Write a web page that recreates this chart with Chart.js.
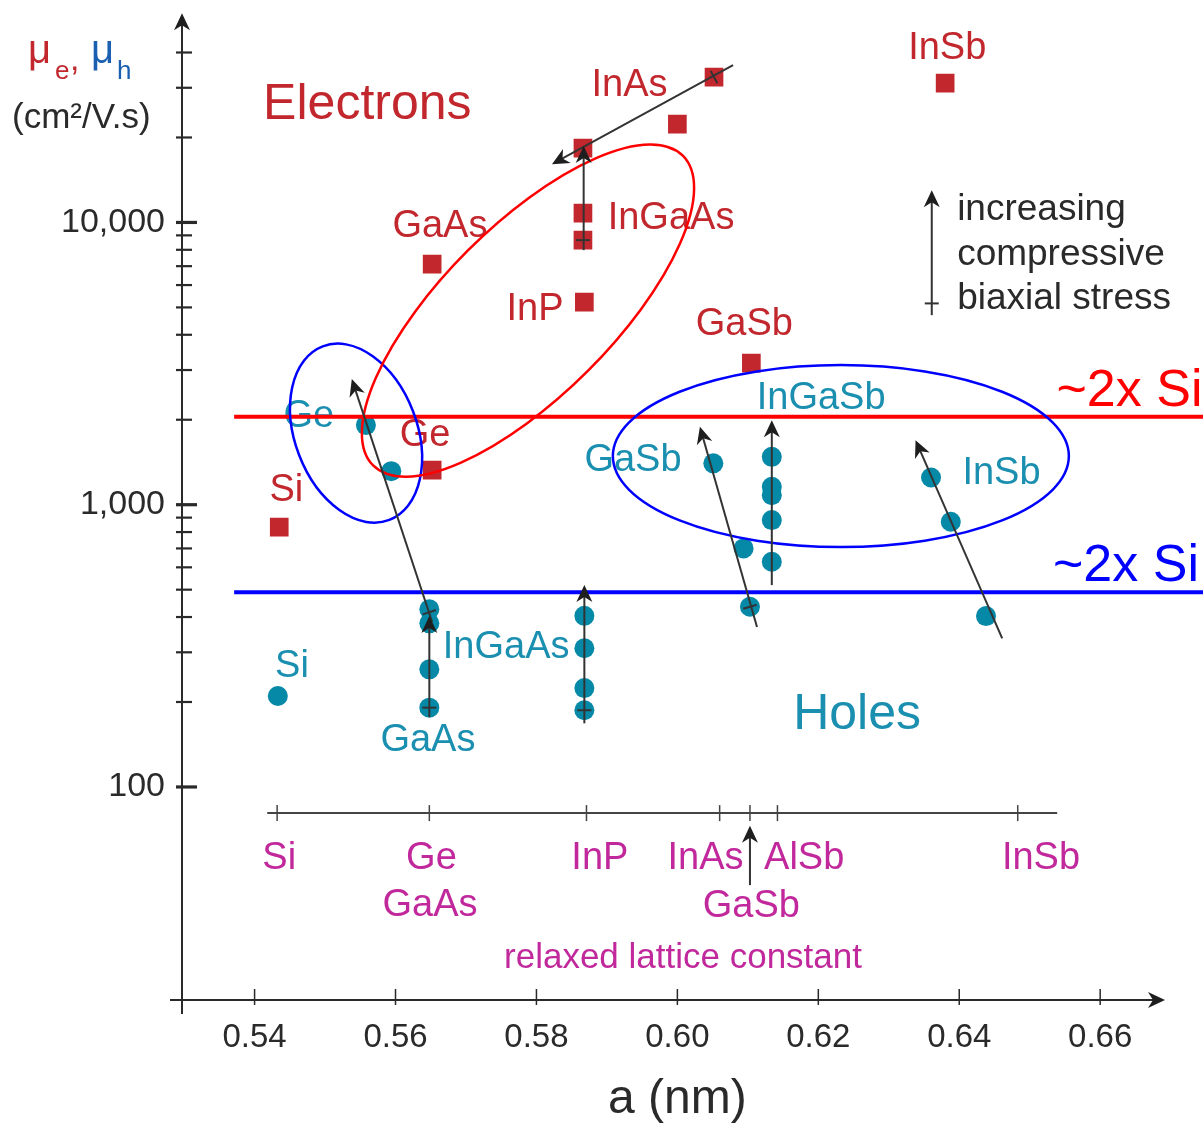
<!DOCTYPE html>
<html><head><meta charset="utf-8">
<script src="https://cdn.jsdelivr.net/npm/chart.js@4.4.1/dist/chart.umd.min.js"></script>
<style>html,body{margin:0;padding:0;background:#fff;overflow:hidden}canvas{display:block}</style>
</head><body>
<canvas id="c" width="1203" height="1123" style="width:1203px;height:1123px"></canvas>
<script>
// ---------- DATA ----------
// Electron mobility (red squares): lattice constant a (nm), mobility (cm2/V.s)
const electronA  = [0.5435, 0.5652, 0.5652, 0.5868, 0.5866, 0.5866, 0.5866, 0.6000, 0.6052, 0.6105, 0.6380];
const electronMu = [833, 1326, 7120, 5220, 8660, 10790, 18340, 22300, 32700, 3175, 31140];
// Hole mobility (teal circles)
const holeA  = [0.5433, 0.5558, 0.5594, 0.5648, 0.5648, 0.5648, 0.5648, 0.5868, 0.5868, 0.5868, 0.5868,
                0.6051, 0.6094, 0.6103, 0.6134, 0.6134, 0.6134, 0.6134, 0.6134, 0.6360, 0.6388, 0.6438];
const holeMu = [210, 1914, 1315, 426, 380, 261, 191, 404, 310, 224, 187,
                1401, 700, 435, 1478, 1157, 1081, 882, 628, 1249, 870, 403];
// Reference lines "~2x Si"
const refLineA = [0.5371, 0.6746];
const refElectronMu = 2050;
const refHoleMu = 490;
// Axis ticks
const xTickValues = [0.54, 0.56, 0.58, 0.60, 0.62, 0.64, 0.66];
const xTickLabels = ['0.54', '0.56', '0.58', '0.60', '0.62', '0.64', '0.66'];
const yTickValues = [100, 1000, 10000];
const yTickLabels = ['100', '1,000', '10,000'];
const yMinorTicks = [200, 300, 400, 500, 600, 700, 800, 900,
                     2000, 3000, 4000, 5000, 6000, 7000, 8000, 9000,
                     20000, 30000, 40000];
// Relaxed lattice constant scale
const latticeA = [0.5432, 0.5648, 0.5871, 0.6060, 0.6103, 0.6142, 0.6483];
const latticeMu = 80.8;
const latticeRange = [0.5418, 0.6539];
// Strain arrows: [a0, mu0, a1 (tip), mu1 (tip)]
const arrows = [
  [0.6079, 36070, 0.5822, 16090],
  [0.5867, 7978, 0.5867, 18640],
  [0.5652, 384, 0.5538, 2786],
  [0.5648, 177, 0.5648, 403],
  [0.5868, 168, 0.5868, 519],
  [0.6113, 369, 0.6032, 1888],
  [0.6134, 519, 0.6134, 1993],
  [0.6461, 336, 0.6338, 1693],
  [0.6103, 44.9, 0.6103, 72.9],
  [0.6361, 4694, 0.6361, 13016]
];
// Start (unstrained) markers on arrows: [arrow index, a, mu]
const arrowStarts = [[0, 0.6052, 32700], [1, 0.5866, 8657], [2, 0.5648, 416], [3, 0.5648, 191], [4, 0.5868, 187], [5, 0.6103, 435], [9, 0.6361, 5166]];

// ---------- ANNOTATIONS (anchors in data units) ----------
const RED = '#c1272d', TEAL = '#1a8fb0', MAG = '#c0289b', DARK = '#2a2a2a';
const notes = [
  ['Electrons', 0.5560, 26030, RED, 50, 'center'],
  ['InAs', 0.5932, 30650, RED, 38, 'center'],
  ['InSb', 0.6383, 41440, RED, 38, 'center'],
  ['GaAs', 0.5663, 9703, RED, 38, 'center'],
  ['InGaAs', 0.5991, 10356, RED, 38, 'center'],
  ['InP', 0.5798, 4932, RED, 38, 'center'],
  ['GaSb', 0.6095, 4362, RED, 38, 'center'],
  ['Ge', 0.5642, 1764, RED, 38, 'center'],
  ['Si', 0.5445, 1126, RED, 38, 'center'],
  ['Ge', 0.5477, 2060, TEAL, 38, 'center'],
  ['GaSb', 0.5937, 1439, TEAL, 38, 'center'],
  ['InGaSb', 0.6204, 2386, TEAL, 38, 'center'],
  ['InSb', 0.6460, 1294, TEAL, 38, 'center'],
  ['InGaAs', 0.5757, 313, TEAL, 38, 'center'],
  ['Si', 0.5453, 268, TEAL, 38, 'center'],
  ['GaAs', 0.5646, 146.6, TEAL, 38, 'center'],
  ['Holes', 0.6255, 179.7, TEAL, 50, 'center'],
  ['Si', 0.5435, 56, MAG, 38, 'center'],
  ['Ge', 0.5651, 56, MAG, 38, 'center'],
  ['GaAs', 0.5649, 37.9, MAG, 38, 'center'],
  ['InP', 0.5890, 56, MAG, 38, 'center'],
  ['InAs', 0.6040, 56, MAG, 38, 'center'],
  ['AlSb', 0.6180, 56, MAG, 38, 'center'],
  ['GaSb', 0.6105, 37.6, MAG, 38, 'center'],
  ['InSb', 0.6516, 56, MAG, 38, 'center'],
  ['relaxed lattice constant', 0.6008, 24.8, MAG, 35, 'center'],
  ['increasing', 0.6397, 11055, DARK, 37, 'left'],
  ['compressive', 0.6397, 7661, DARK, 37, 'left'],
  ['biaxial stress', 0.6397, 5350, DARK, 37, 'left'],
  ['~2x Si', 0.6538, 2505, '#ff0000', 52, 'left'],
  ['~2x Si', 0.6533, 601, '#0000ff', 52, 'left']
];
// Ellipses: [a centre, mu centre, rx px, ry px, rotation deg, colour]
const ellipses = [
  [0.5544, 1793, 61, 93, -21, '#0000ff'],
  [0.5788, 4874, 219, 85, -45, '#ff0000'],
  [0.6232, 1487, 228, 91, 0, '#0000ff']
];

const FONT = '"Liberation Sans", Arial, Helvetica, sans-serif';

function arrowHead(ctx, x0, y0, x1, y1) {
  const ang = Math.atan2(y1 - y0, x1 - x0);
  ctx.save();
  ctx.translate(x1, y1); ctx.rotate(ang);
  ctx.beginPath();
  ctx.moveTo(0, 0); ctx.lineTo(-17, -8); ctx.lineTo(-12, 0); ctx.lineTo(-17, 8);
  ctx.closePath(); ctx.fill();
  ctx.restore();
}

const decor = {
  id: 'decor',
  beforeDatasetsDraw(chart) {
    const ctx = chart.ctx, xs = chart.scales.x, ys = chart.scales.y;
    ctx.save();
    ctx.textBaseline = 'middle';
    for (const [t, a, m, col, size, align] of notes) {
      ctx.font = size + 'px ' + FONT;
      ctx.fillStyle = col;
      ctx.textAlign = align;
      ctx.fillText(t, xs.getPixelForValue(a), ys.getPixelForValue(m));
    }
    ctx.restore();
  },
  afterDatasetsDraw(chart) {
    const ctx = chart.ctx, xs = chart.scales.x, ys = chart.scales.y;
    const ca = chart.chartArea;
    const X = v => xs.getPixelForValue(v), Y = v => ys.getPixelForValue(v);
    ctx.save();
    // ellipses
    ctx.lineWidth = 2.5;
    for (const [a, m, rx, ry, rot, col] of ellipses) {
      ctx.strokeStyle = col;
      ctx.beginPath();
      ctx.ellipse(X(a), Y(m), rx, ry, rot * Math.PI / 180, 0, Math.PI * 2);
      ctx.stroke();
    }
    // arrows
    ctx.strokeStyle = '#333'; ctx.fillStyle = '#1e1e1e'; ctx.lineWidth = 2;
    arrows.forEach(([a0, m0, a1, m1]) => {
      const x0 = X(a0), y0 = Y(m0), x1 = X(a1), y1 = Y(m1);
      const L = Math.hypot(x1 - x0, y1 - y0);
      const ux = (x1 - x0) / L, uy = (y1 - y0) / L;
      ctx.beginPath(); ctx.moveTo(x0, y0); ctx.lineTo(x1 - ux * 10, y1 - uy * 10); ctx.stroke();
      arrowHead(ctx, x0, y0, x1, y1);
    });
    for (const [i, a, m] of arrowStarts) {
      const [a0, m0, a1, m1] = arrows[i];
      const dx = X(a1) - X(a0), dy = Y(m1) - Y(m0), L = Math.hypot(dx, dy);
      const px = -dy / L * 7, py = dx / L * 7;
      const cx = X(a), cy = Y(m);
      ctx.beginPath(); ctx.moveTo(cx - px, cy - py); ctx.lineTo(cx + px, cy + py); ctx.stroke();
    }
    // relaxed lattice constant scale
    ctx.strokeStyle = '#444'; ctx.lineWidth = 2;
    const ly = Y(latticeMu);
    ctx.beginPath(); ctx.moveTo(X(latticeRange[0]), ly); ctx.lineTo(X(latticeRange[1]), ly); ctx.stroke();
    ctx.lineWidth = 1.5;
    for (const a of latticeA) {
      ctx.beginPath(); ctx.moveTo(X(a), ly - 8); ctx.lineTo(X(a), ly + 8); ctx.stroke();
    }
    // axes
    ctx.strokeStyle = '#2a2a2a'; ctx.fillStyle = '#1e1e1e'; ctx.lineWidth = 2;
    const ax = ca.left, ay = ca.bottom;
    ctx.beginPath(); ctx.moveTo(ax, ay + 14); ctx.lineTo(ax, ca.top + 10); ctx.stroke();
    arrowHead(ctx, ax, ay, ax, ca.top);
    ctx.beginPath(); ctx.moveTo(ax - 12, ay); ctx.lineTo(ca.right - 10, ay); ctx.stroke();
    arrowHead(ctx, ax, ay, ca.right, ay);
    // y ticks
    ctx.lineWidth = 2.2;
    for (const v of yMinorTicks) {
      const y = Y(v);
      ctx.beginPath(); ctx.moveTo(ax - 6, y); ctx.lineTo(ax + 10, y); ctx.stroke();
    }
    ctx.lineWidth = 3.2;
    for (const v of yTickValues) {
      const y = Y(v);
      ctx.beginPath(); ctx.moveTo(ax - 6, y); ctx.lineTo(ax + 15, y); ctx.stroke();
    }
    // x ticks
    ctx.lineWidth = 1.5;
    for (const v of xTickValues) {
      const x = X(v);
      ctx.beginPath(); ctx.moveTo(x, ay - 11); ctx.lineTo(x, ay + 5); ctx.stroke();
    }
    // tick labels
    ctx.fillStyle = '#2a2a2a';
    ctx.font = '34px ' + FONT;
    ctx.textBaseline = 'middle';
    ctx.textAlign = 'right';
    yTickValues.forEach((v, i) => ctx.fillText(yTickLabels[i], ax - 17, Y(v)));
    ctx.textAlign = 'center';
    ctx.font = '33px ' + FONT;
    xTickValues.forEach((v, i) => ctx.fillText(xTickLabels[i], X(v), ay + 38));
    // axis titles
    ctx.font = '48px ' + FONT;
    ctx.fillText('a (nm)', X(0.60), ay + 100);
    ctx.textAlign = 'left';
    ctx.textBaseline = 'alphabetic';
    ctx.font = '40px ' + FONT;
    ctx.fillStyle = RED; ctx.fillText('\u03BC', 28, 63);
    ctx.font = '26px ' + FONT; ctx.fillText('e', 55, 79);
    ctx.font = '34px ' + FONT; ctx.fillText(',', 70, 70);
    ctx.font = '40px ' + FONT;
    ctx.fillStyle = '#1a5fb0'; ctx.fillText('\u03BC', 91, 63);
    ctx.font = '26px ' + FONT; ctx.fillText('h', 117, 79);
    ctx.fillStyle = '#2a2a2a';
    ctx.font = '35px ' + FONT; ctx.fillText('(cm\u00B2/V.s)', 12, 128);
    ctx.restore();
  }
};

const chart = new Chart(document.getElementById('c'), {
  type: 'scatter',
  data: {
    datasets: [
      { label: '~2x Si (electrons)', type: 'line', data: refLineA.map(a => ({ x: a, y: refElectronMu })),
        borderColor: '#ff0000', borderWidth: 4, pointRadius: 0, clip: false, order: 0 },
      { label: '~2x Si (holes)', type: 'line', data: refLineA.map(a => ({ x: a, y: refHoleMu })),
        borderColor: '#0000ff', borderWidth: 4, pointRadius: 0, clip: false, order: 0 },
      { label: 'Electrons', data: electronA.map((a, i) => ({ x: a, y: electronMu[i] })),
        pointStyle: 'rect', pointRadius: 13.2, backgroundColor: '#c1272d', borderWidth: 0, order: 2 },
      { label: 'Holes', data: holeA.map((a, i) => ({ x: a, y: holeMu[i] })),
        pointStyle: 'circle', pointRadius: 10, backgroundColor: '#0589a7', borderWidth: 0, order: 2 }
    ]
  },
  options: {
    responsive: false, animation: false, devicePixelRatio: 1, events: [],
    layout: { padding: { left: 182, right: 38, top: 13, bottom: 123 } },
    plugins: { legend: { display: false }, tooltip: { enabled: false } },
    scales: {
      x: { type: 'linear', min: 0.5297, max: 0.6692, bounds: 'data', display: false },
      y: { type: 'logarithmic', min: 17.59, max: 55120, bounds: 'data', display: false }
    }
  },
  plugins: [decor]
});
</script>
</body></html>
